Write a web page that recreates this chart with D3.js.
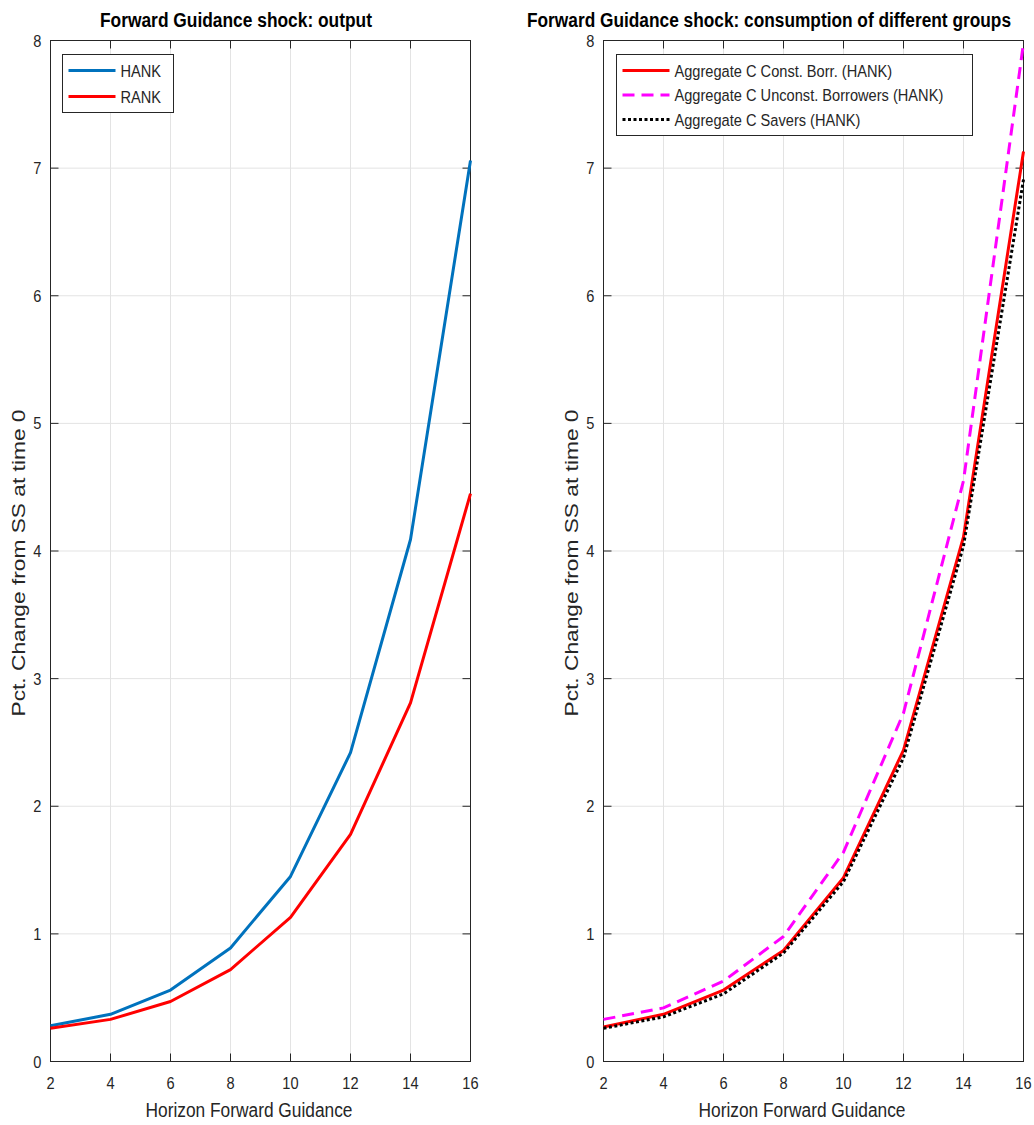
<!DOCTYPE html>
<html><head><meta charset="utf-8">
<script src="https://cdn.jsdelivr.net/npm/d3@7"></script>
<style>body{margin:0;background:#fff;} svg{display:block;font-family:"Liberation Sans",Arial,sans-serif;}</style>
</head><body>
<svg id="c" width="1034" height="1125"></svg>
<script>
const horizons = [2,4,6,8,10,12,14,16];
const xTicks = [2,4,6,8,10,12,14,16];
const yTicks = [0,1,2,3,4,5,6,7,8];
const hank = [0.28,0.37,0.56,0.89,1.45,2.42,4.09,7.06];
const rank = [0.26,0.33,0.47,0.72,1.13,1.78,2.81,4.45];
const constBorr = [0.27,0.37,0.56,0.87,1.44,2.44,4.11,7.13];
const unconstBorr = [0.33,0.42,0.63,0.98,1.64,2.73,4.55,7.98];
const savers = [0.26,0.35,0.53,0.85,1.41,2.38,4.04,6.91];

const titles = ["Forward Guidance shock: output","Forward Guidance shock: consumption of different groups"];
const xLabel = "Horizon Forward Guidance";
const yLabel = "Pct. Change from SS at time 0";

const panels = [
  {left:50.5, right:470.5, title:titles[0], titleX:100, titleW:272,
   series:[
     {name:"HANK", values:hank, color:"#0072BD", dash:null, w:3},
     {name:"RANK", values:rank, color:"#FF0000", dash:null, w:3}
   ],
   legend:{x:62.5,y:54.5,w:111,h:58,step:26}},
  {left:603.5, right:1023.5, title:titles[1], titleX:527, titleW:484,
   series:[
     {name:"Aggregate C Const. Borr. (HANK)", values:constBorr, color:"#FF0000", dash:null, w:3},
     {name:"Aggregate C Unconst. Borrowers (HANK)", values:unconstBorr, color:"#FF00FF", dash:"12,7", w:3},
     {name:"Aggregate C Savers (HANK)", values:savers, color:"#000000", dash:"3,2.5", w:3}
   ],
   legend:{x:616.5,y:54.5,w:356,h:81,step:24.5}}
];
const plotTop=40.5, plotBottom=1061.5;
const svg=d3.select("#c");
const axisCol="#262626";
const SX=0.86;

function txt(g,x,y,str,size,anchor,opts={}){
  const t=g.append("text").attr("transform",`translate(${x},${y}) scale(${SX},1)`)
    .attr("text-anchor",anchor).attr("font-size",size).attr("fill",opts.fill||axisCol)
    .attr("font-weight",opts.bold?"bold":null).text(str);
  return t;
}

panels.forEach((p,pi)=>{
  const x=d3.scaleLinear().domain([2,16]).range([p.left,p.right]);
  const y=d3.scaleLinear().domain([0,8]).range([plotBottom,plotTop]);
  const g=svg.append("g");
  g.selectAll(".gx").data(xTicks).enter().append("line")
    .attr("x1",d=>x(d)).attr("x2",d=>x(d)).attr("y1",plotTop).attr("y2",plotBottom)
    .attr("stroke","#e3e3e3").attr("stroke-width",1);
  g.selectAll(".gy").data(yTicks).enter().append("line")
    .attr("x1",p.left).attr("x2",p.right).attr("y1",d=>y(d)).attr("y2",d=>y(d))
    .attr("stroke","#e3e3e3").attr("stroke-width",1);
  g.append("rect").attr("x",p.left).attr("y",plotTop).attr("width",p.right-p.left).attr("height",plotBottom-plotTop)
    .attr("fill","none").attr("stroke",axisCol).attr("stroke-width",1);
  const tl=8;
  xTicks.forEach(t=>{
    g.append("line").attr("x1",x(t)).attr("x2",x(t)).attr("y1",plotBottom).attr("y2",plotBottom-tl).attr("stroke",axisCol);
    g.append("line").attr("x1",x(t)).attr("x2",x(t)).attr("y1",plotTop).attr("y2",plotTop+tl).attr("stroke",axisCol);
  });
  yTicks.forEach(t=>{
    g.append("line").attr("x1",p.left).attr("x2",p.left+tl).attr("y1",y(t)).attr("y2",y(t)).attr("stroke",axisCol);
    g.append("line").attr("x1",p.right).attr("x2",p.right-tl).attr("y1",y(t)).attr("y2",y(t)).attr("stroke",axisCol);
  });
  xTicks.forEach(t=>txt(g,x(t),plotBottom+27,String(t),17,"middle"));
  yTicks.forEach(t=>txt(g,p.left-9,y(t)+6,String(t),17,"end"));
  g.append("text").attr("x",(p.left+p.right)/2-11.5).attr("y",1117).attr("text-anchor","middle")
    .attr("font-size",20).attr("fill",axisCol).attr("textLength",207).attr("lengthAdjust","spacingAndGlyphs").text(xLabel);
  g.append("text").attr("transform",`translate(${p.left-26},${(plotTop+plotBottom)/2+12}) rotate(-90)`)
    .attr("text-anchor","middle").attr("font-size",19).attr("fill",axisCol)
    .attr("textLength",307).attr("lengthAdjust","spacingAndGlyphs").text(yLabel);
  g.append("text").attr("x",p.titleX).attr("y",27).attr("text-anchor","start")
    .attr("font-size",20).attr("font-weight","bold").attr("fill","#000")
    .attr("textLength",p.titleW).attr("lengthAdjust","spacingAndGlyphs").text(p.title);
  const line=d3.line().x((d,i)=>x(horizons[i])).y(d=>y(d));
  p.series.forEach(s=>{
    g.append("path").datum(s.values).attr("d",line).attr("fill","none")
      .attr("stroke",s.color).attr("stroke-width",s.w)
      .attr("stroke-dasharray",s.dash).attr("stroke-linejoin","round");
  });
  const L=p.legend;
  g.append("rect").attr("x",L.x).attr("y",L.y).attr("width",L.w).attr("height",L.h)
    .attr("fill","#fff").attr("stroke",axisCol).attr("stroke-width",1);
  p.series.forEach((s,i)=>{
    const yy=L.y+16+i*L.step;
    g.append("line").attr("x1",L.x+6).attr("x2",L.x+53).attr("y1",yy).attr("y2",yy)
      .attr("stroke",s.color).attr("stroke-width",s.w).attr("stroke-dasharray",s.dash);
    txt(g,L.x+58,yy+6,s.name,17,"start");
  });
});
</script>
</body></html>
